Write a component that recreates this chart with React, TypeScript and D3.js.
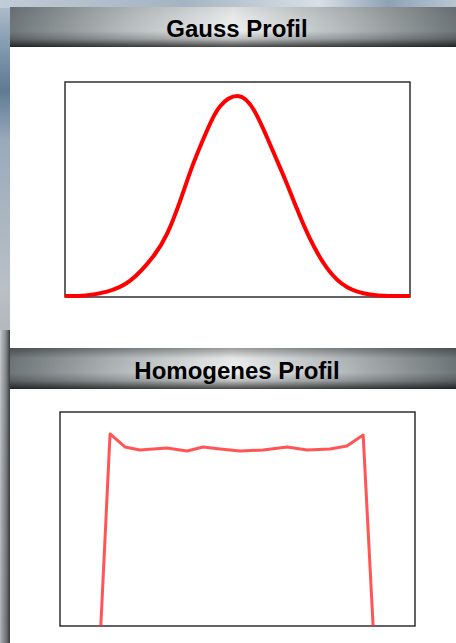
import * as d3 from "d3";
import React, { useRef, useEffect } from "react";

const width = 456;
const height = 643;

// Gauss profile: position (% of box width) / relative intensity
const gaussX = [0, 6, 12.2, 18.8, 25.5, 29.6, 33.3, 37.1, 41.2, 44.9, 50.1, 55.1, 60.3, 63.8, 67.2, 71.0, 75.9, 81.7, 88.4, 94, 100];
const gaussY = [0.005, 0.008, 0.027, 0.08, 0.2, 0.315, 0.475, 0.66, 0.83, 0.948, 1.0, 0.92, 0.725, 0.585, 0.44, 0.29, 0.145, 0.05, 0.012, 0.005, 0.005];

// Homogeneous (top hat) profile
const homX = [11.5, 14.1, 18.3, 22.5, 30.1, 35.8, 40.3, 45.1, 50.7, 57.2, 64.0, 69.6, 76.1, 80.8, 85.4, 88.2];
const homY = [0, 1.077, 1.004, 0.987, 0.998, 0.981, 1.004, 0.993, 0.981, 0.987, 1.004, 0.987, 0.993, 1.009, 1.071, 0];

const titles = ["Gauss Profil", "Homogenes Profil"];

const panels = [
	{ header: [7, 47], white: [47, 348], box: { x: 65, y: 82, w: 345, h: 215 }, yMax: 1.07, topShade: 0.08 },
	{ header: [348, 389], white: [389, 643], box: { x: 60, y: 412, w: 355, h: 214 }, yMax: 1.2, topShade: 0.35 },
];

const App = () => {
	const ref = useRef(null);

	useEffect(() => {
		if (!ref.current) return;
		const svg = d3.select(ref.current);
		svg.selectAll("*").remove();
		const defs = svg.append("defs");

		const bg = defs.append("linearGradient").attr("id", "bg").attr("x1", 0).attr("y1", 0).attr("x2", 0).attr("y2", 1);
		[["0", "#b4c2ce"], ["0.06", "#8aa0b4"], ["0.14", "#5f7a94"], ["0.22", "#9aaabb"], ["0.45", "#b9c0c6"], ["0.6", "#a9adb1"], ["1", "#8e9194"]]
			.forEach(([o, c]) => bg.append("stop").attr("offset", o).attr("stop-color", c));

		const top = defs.append("linearGradient").attr("id", "top").attr("x1", 0).attr("y1", 0).attr("x2", 1).attr("y2", 0);
		[["0", "#c0ccd6"], ["0.4", "#a4b4c2"], ["0.7", "#d8e0e6"], ["0.85", "#8ea2b6"], ["1", "#b8c6d2"]]
			.forEach(([o, c]) => top.append("stop").attr("offset", o).attr("stop-color", c));

		const side = defs.append("linearGradient").attr("id", "side").attr("x1", 0).attr("y1", 0).attr("x2", 1).attr("y2", 0);
		[["0", "rgba(220,222,224,0.5)"], ["0.4", "rgba(120,122,124,0.4)"], ["1", "rgba(40,42,44,0.9)"]]
			.forEach(([o, c]) => side.append("stop").attr("offset", o).attr("stop-color", c));

		const hg = defs.append("linearGradient").attr("id", "hg").attr("x1", 0).attr("y1", 0).attr("x2", 1).attr("y2", 0);
		[["0", "#6f7679"], ["0.25", "#b4babc"], ["0.5", "#eef0f0"], ["0.75", "#b4babc"], ["1", "#6f7679"]]
			.forEach(([o, c]) => hg.append("stop").attr("offset", o).attr("stop-color", c));

		svg.append("rect").attr("width", width).attr("height", height).attr("fill", "url(#bg)");
		svg.append("rect").attr("width", width).attr("height", 8).attr("fill", "url(#top)");
		svg.append("rect").attr("y", 330).attr("width", 10).attr("height", height - 330).attr("fill", "url(#side)");

		panels.forEach((p, i) => {
			const shade = defs.append("linearGradient").attr("id", `shade${i}`).attr("x1", 0).attr("y1", 0).attr("x2", 0).attr("y2", 1);
			[["0", `rgba(0,0,0,${p.topShade})`], ["0.25", "rgba(0,0,0,0.03)"], ["0.6", "rgba(0,0,0,0)"], ["0.8", "rgba(0,0,0,0.2)"], ["1", "rgba(0,0,0,0.7)"]]
				.forEach(([o, c]) => shade.append("stop").attr("offset", o).attr("stop-color", c));

			const [h0, h1] = p.header;
			svg.append("rect").attr("x", 10).attr("y", h0).attr("width", width - 10).attr("height", h1 - h0).attr("fill", "url(#hg)");
			svg.append("rect").attr("x", 10).attr("y", h0).attr("width", width - 10).attr("height", h1 - h0).attr("fill", `url(#shade${i})`);
			svg.append("text")
				.attr("x", 237)
				.attr("y", h1 - 10)
				.attr("text-anchor", "middle")
				.attr("font-family", "'Liberation Sans', Arial, sans-serif")
				.attr("font-weight", "bold")
				.attr("font-size", 24)
				.attr("fill", "#000")
				.text(titles[i]);

			const [w0, w1] = p.white;
			svg.append("rect").attr("x", 10).attr("y", w0).attr("width", width - 10).attr("height", w1 - w0).attr("fill", "#fff");

			const b = p.box;
			svg.append("rect")
				.attr("x", b.x).attr("y", b.y).attr("width", b.w).attr("height", b.h)
				.attr("fill", "#fff").attr("stroke", "#222").attr("stroke-width", 1.4);
		});

		// Gauss chart
		const g = panels[0].box;
		const x1 = d3.scaleLinear().domain([0, 100]).range([g.x, g.x + g.w]);
		const y1 = d3.scaleLinear().domain([0, panels[0].yMax]).range([g.y + g.h, g.y]);
		const gaussLine = d3.line<number>()
			.x((d, i) => x1(gaussX[i]))
			.y((d) => y1(d))
			.curve(d3.curveNatural);
		svg.append("path")
			.attr("d", gaussLine(gaussY))
			.attr("fill", "none")
			.attr("stroke", "#ff0000")
			.attr("stroke-width", 4)
			.attr("stroke-linejoin", "round");

		// Homogeneous chart
		const h = panels[1].box;
		const x2 = d3.scaleLinear().domain([0, 100]).range([h.x, h.x + h.w]);
		const y2 = d3.scaleLinear().domain([0, panels[1].yMax]).range([h.y + h.h, h.y]);
		const homLine = d3.line<number>()
			.x((d, i) => x2(homX[i]))
			.y((d) => y2(d))
			.curve(d3.curveLinear);
		svg.append("path")
			.attr("d", homLine(homY))
			.attr("fill", "none")
			.attr("stroke", "#ff2a2a")
			.attr("stroke-opacity", 0.8)
			.attr("stroke-width", 3)
			.attr("stroke-linejoin", "round");
	}, []);

	return (
		<svg
			ref={ref}
			width={width}
			height={height}
			style={{ position: "absolute", left: 0, top: 0, display: "block" }}
		/>
	);
};

export default App;
